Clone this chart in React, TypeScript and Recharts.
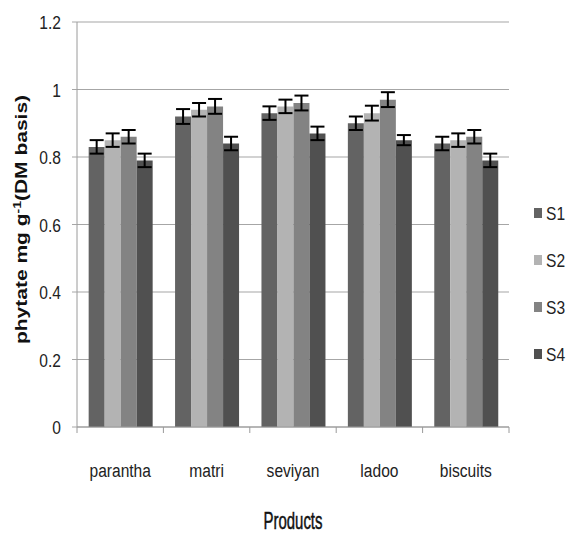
import React from 'react';
import {
  BarChart,
  Bar,
  XAxis,
  YAxis,
  CartesianGrid,
  ErrorBar,
  Label,
} from 'recharts';

// Products on the x axis
const products = ['parantha', 'matri', 'seviyan', 'ladoo', 'biscuits'];

// phytate values per sample
const s1 = [0.83, 0.92, 0.93, 0.9, 0.84];
const s2 = [0.85, 0.94, 0.95, 0.93, 0.85];
const s3 = [0.86, 0.95, 0.96, 0.97, 0.86];
const s4 = [0.79, 0.84, 0.87, 0.85, 0.79];

// standard errors
const e1 = [0.02, 0.022, 0.02, 0.02, 0.02];
const e2 = [0.02, 0.02, 0.02, 0.022, 0.02];
const e3 = [0.02, 0.022, 0.022, 0.022, 0.02];
const e4 = [0.02, 0.02, 0.02, 0.015, 0.02];

const seriesNames = ['S1', 'S2', 'S3', 'S4'];
const seriesColors = ['#636363', '#b3b3b3', '#838383', '#505050'];
const yTicks = [0, 0.2, 0.4, 0.6, 0.8, 1, 1.2];

const data = products.map((p, i) => ({
  product: p,
  S1: s1[i],
  S2: s2[i],
  S3: s3[i],
  S4: s4[i],
  eS1: e1[i],
  eS2: e2[i],
  eS3: e3[i],
  eS4: e4[i],
}));

const font = "'Liberation Sans', Arial, sans-serif";
const squeeze = 0.82; // the original is drawn horizontally compressed

function CategoryTick(props: any) {
  const { x, y, payload, width, visibleTicksCount, index } = props;
  const band = width / visibleTicksCount;
  return (
    <g>
      <line x1={x - band / 2} y1={y - 8} x2={x - band / 2} y2={y - 2} stroke="#9a9a9a" />
      {index === visibleTicksCount - 1 && (
        <line x1={x + band / 2} y1={y - 8} x2={x + band / 2} y2={y - 2} stroke="#9a9a9a" />
      )}
      <text
        transform={`translate(${x}, ${y + 42}) scale(${squeeze}, 1)`}
        textAnchor="middle"
        fill="#222"
        fontSize={19}
        fontFamily={font}
      >
        {payload.value}
      </text>
    </g>
  );
}

function ValueTick(props: any) {
  const { x, y, payload } = props;
  const v = Number(Number(payload.value).toFixed(1));
  return (
    <text
      transform={`translate(${x}, ${y + 7}) scale(${squeeze}, 1)`}
      textAnchor="end"
      fill="#222"
      fontSize={19}
      fontFamily={font}
    >
      {String(v)}
    </text>
  );
}

function YTitle(props: any) {
  const { viewBox } = props;
  const cy = viewBox.y + viewBox.height / 2 - 5;
  return (
    <text
      transform={`translate(27, ${cy}) rotate(-90) scale(1, 0.75)`}
      textAnchor="middle"
      fontSize={21}
      fontWeight="bold"
      fontFamily={font}
      fill="#111"
    >
      phytate mg g
      <tspan dy={-8} fontSize={14}>-1</tspan>
      <tspan dy={8}>(DM basis)</tspan>
    </text>
  );
}

export default function App() {
  return (
    <div
      style={{
        position: 'absolute',
        left: 0,
        top: 0,
        width: 566,
        height: 534,
        background: '#fff',
      }}
    >
      <BarChart
        width={566}
        height={534}
        data={data}
        margin={{ top: 22, right: 57, bottom: 47, left: 0 }}
        barGap={0}
        barCategoryGap="13.5%"
      >
        <CartesianGrid vertical={false} stroke="#a6a6a6" strokeWidth={1.2} />
        <XAxis
          dataKey="product"
          height={60}
          axisLine={{ stroke: '#9a9a9a' }}
          tickLine={false}
          tick={<CategoryTick />}
          interval={0}
        />
        <YAxis
          width={77}
          domain={[0, 1.2]}
          ticks={yTicks}
          axisLine={{ stroke: '#9a9a9a' }}
          tickLine={{ stroke: '#a6a6a6' }}
          tickSize={5}
          tickMargin={11}
          tick={<ValueTick />}
        >
          <Label content={<YTitle />} />
        </YAxis>
        {seriesNames.map((name, i) => (
          <Bar
            key={name}
            dataKey={name}
            fill={seriesColors[i]}
            isAnimationActive={false}
          >
            <ErrorBar
              dataKey={`e${name}`}
              width={7}
              stroke="#000"
              strokeWidth={2}
              direction="y"
            />
          </Bar>
        ))}
        <text
          transform="translate(293, 529) scale(0.65, 1)"
          textAnchor="middle"
          fontSize={23}
          fontFamily={font}
          fill="#111"
          stroke="#111"
          strokeWidth={0.5}
        >
          Products
        </text>
      </BarChart>
      <svg
        width={40}
        height={200}
        style={{ position: 'absolute', left: 530, top: 190 }}
      >
        {seriesNames.map((name, i) => (
          <g key={name} transform={`translate(0, ${23 + i * 47})`}>
            <rect x={4} y={-5} width={8} height={10} fill={seriesColors[i]} />
            <text
              transform={`translate(16, 7) scale(${squeeze}, 1)`}
              fontSize={19}
              fontFamily={font}
              fill="#222"
            >
              {name}
            </text>
          </g>
        ))}
      </svg>
    </div>
  );
}
